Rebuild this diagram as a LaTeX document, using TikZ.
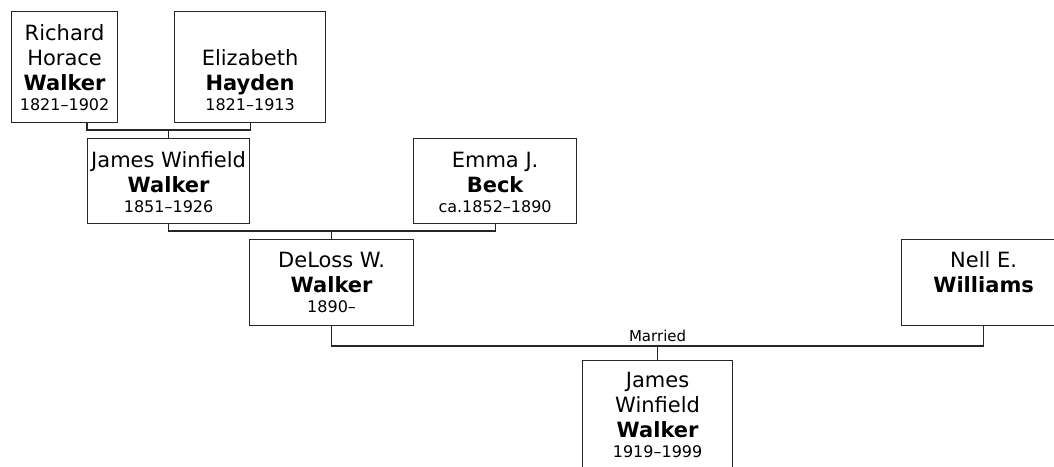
\documentclass[tikz,border=0pt]{standalone}
\usepackage{fontspec}
\setmainfont{DejaVu Sans}
\usetikzlibrary{calc, positioning}

\newcommand{\pname}[1]{{\fontsize{21}{25}\selectfont #1\par}}
\newcommand{\psurname}[1]{{\fontsize{21}{25}\selectfont\bfseries #1\par}}
\newcommand{\pyears}[1]{{\fontsize{16}{20}\selectfont #1\par}}
\newcommand{\pcard}[4]{\parbox[c][#2pt][t]{#1pt}{\centering\vspace*{#3pt}#4}}

\tikzset{
  person/.style={draw=black!85, line width=1.2pt, inner sep=0pt, anchor=north west},
  link/.style={draw=black!85, line width=1.2pt},
}

\begin{document}
\begin{tikzpicture}[x=1pt, y=-1pt]
\def\gap{8}
\useasboundingbox (0,0) rectangle (1054,466);
\clip (0,0) rectangle (1054,466);

\node[person] (richard) at (11,11)
  {\pcard{106}{111}{11.5}{\pname{\strut Richard}\pname{Horace}\psurname{Walker}\pyears{1821--1902}}};
\node[person] (elizabeth) at (174,11)
  {\pcard{151}{111}{36.5}{\pname{\strut Elizabeth}\psurname{Hayden}\pyears{1821--1913}}};

\node[person] (jamesw) at (87,138)
  {\pcard{162}{85}{11.5}{\pname{\strut James Winfield}\psurname{Walker}\pyears{1851--1926}}};
\node[person] (emma) at (413,138)
  {\pcard{163}{85}{11.5}{\pname{\strut Emma J.}\psurname{Beck}\pyears{ca.1852--1890}}};

\node[person] (deloss) at (249,239)
  {\pcard{164}{86}{10.5}{\pname{\strut DeLoss W.}\psurname{Walker}\pyears{1890--}}};
\node[person] (nell) at (901,239)
  {\pcard{164}{86}{10.5}{\pname{\strut Nell E.}\psurname{Williams}}};

\node[person] (jameswj) at (582,360)
  {\pcard{150}{130}{9.5}{\pname{\strut James}\pname{Winfield}\psurname{Walker}\pyears{1919--1999}}};

% family bars
\coordinate (bar1) at ($(jamesw.north)+(0,-\gap)$);
\coordinate (bar2) at ($(deloss.north)+(0,-\gap)$);
\coordinate (bar3) at ($(jameswj.north)+(0,-14)$);

\draw[link] (richard.south -| jamesw.west) |- (bar1 -| elizabeth.south) -- (elizabeth.south);
\draw[link] (bar1) -- (jamesw.north);

\draw[link] (jamesw.south) |- (bar2 -| emma.south) -- (emma.south);
\draw[link] (bar2) -- (deloss.north);

\draw[link] (deloss.south) |- (bar3 -| nell.south) -- (nell.south);
\draw[link] (bar3) -- (jameswj.north);
\node[anchor=base, inner sep=0pt, font=\fontsize{15}{18}\selectfont] (married)
  at ($(bar3)+(0,-5)$) {Married};

\end{tikzpicture}
\end{document}
